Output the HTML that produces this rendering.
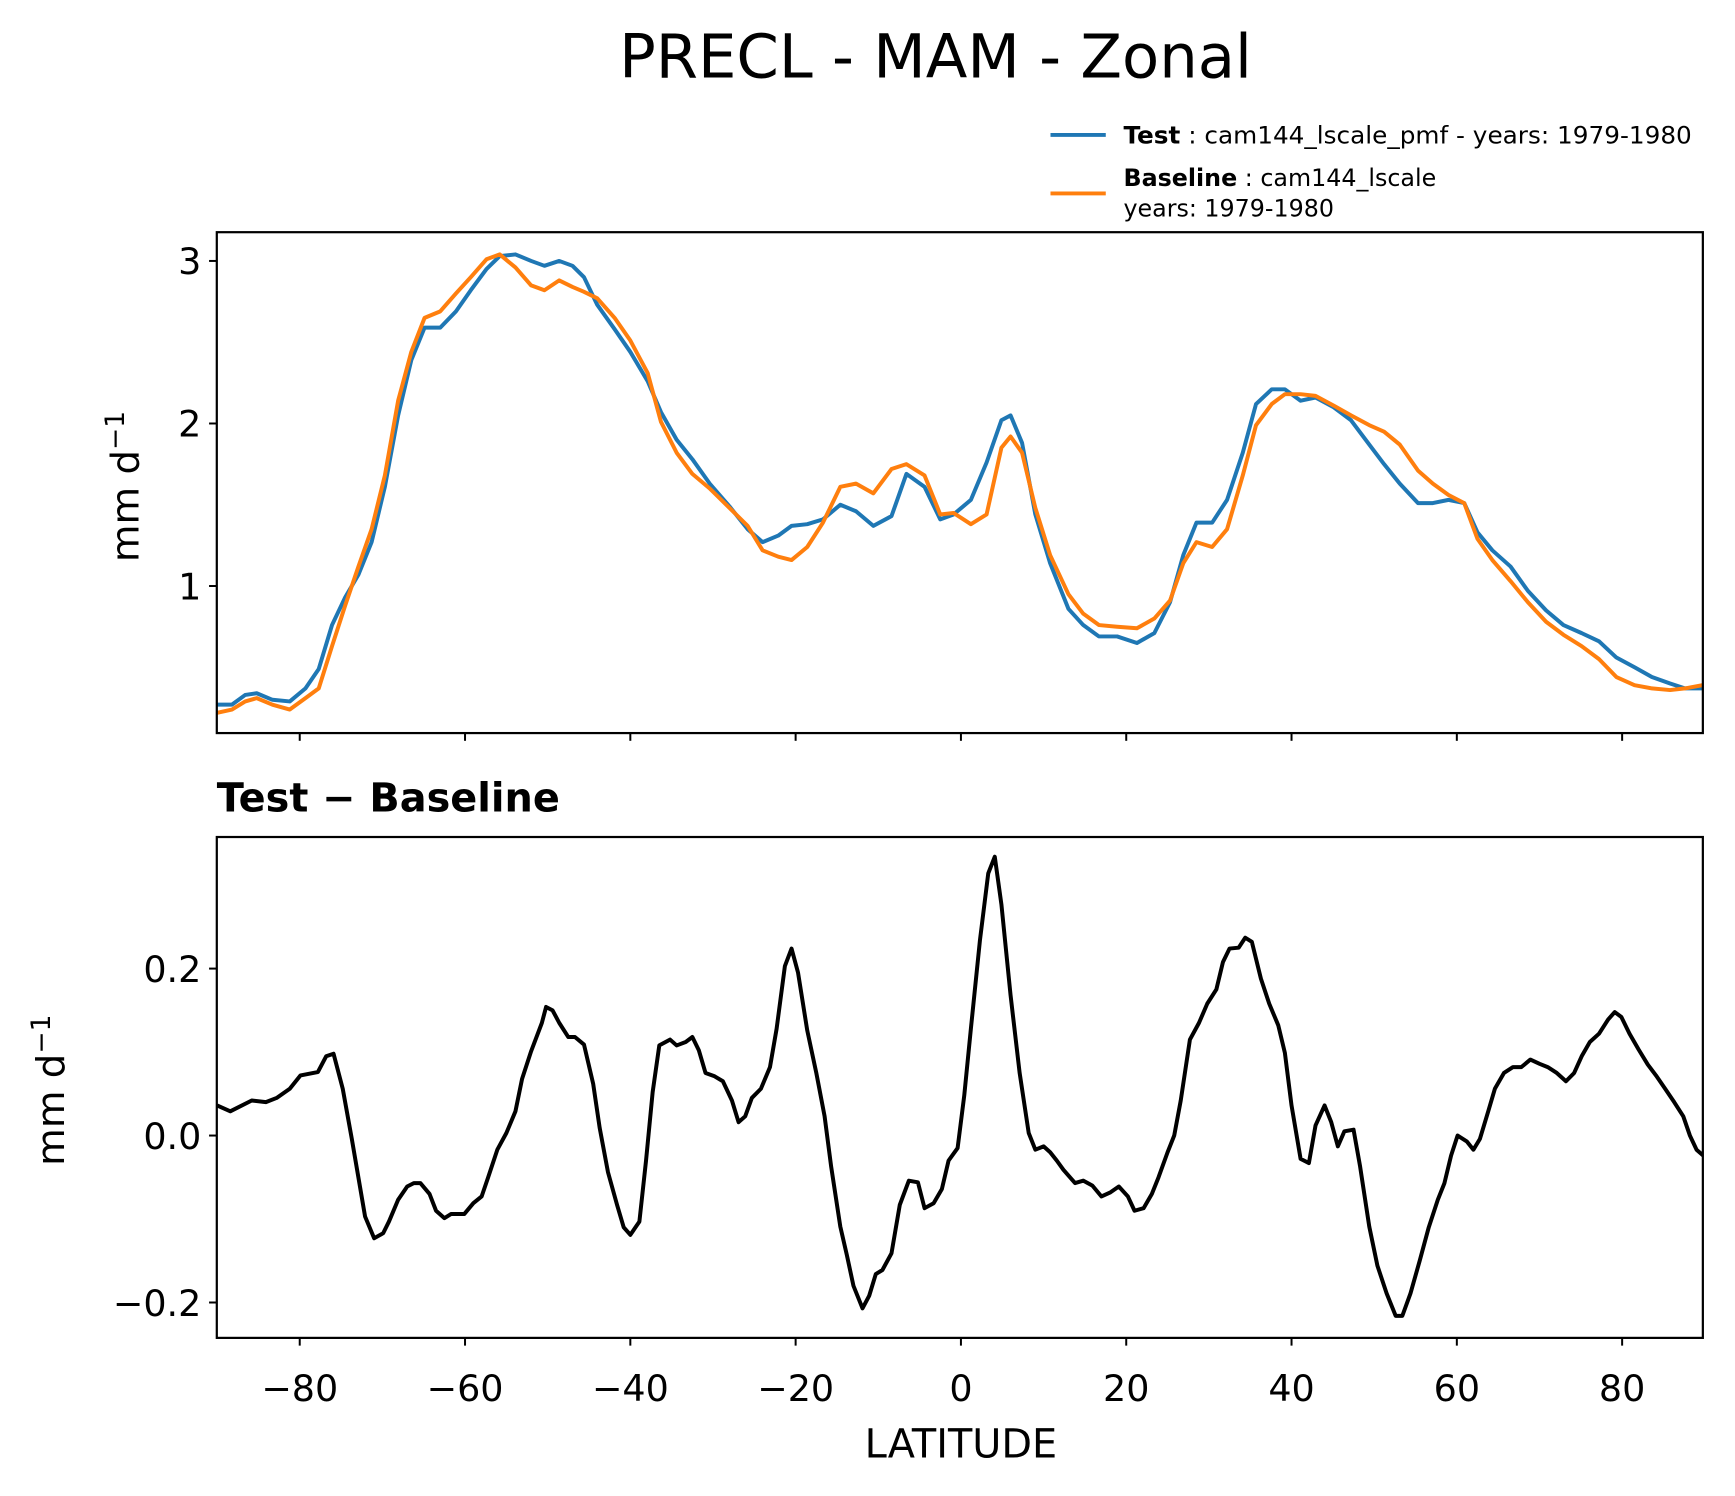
<!DOCTYPE html>
<html><head><meta charset="utf-8"><style>
html,body{margin:0;padding:0;background:#fff;}
svg{display:block;font-family:"DejaVu Sans","Liberation Sans",sans-serif;}
</style></head><body>
<svg id="fig" width="1735" height="1496" viewBox="0 0 1569 1353" xmlns="http://www.w3.org/2000/svg">
<rect width="1569" height="1353" fill="#fff"/>
<text x="846" y="70" font-size="55" text-anchor="middle">PRECL - MAM - Zonal</text>
<g>
<line x1="950" y1="122" x2="1000" y2="122" stroke="#1f77b4" stroke-width="3.5"/>
<text x="1016" y="130" font-size="21.5" textLength="514" lengthAdjust="spacingAndGlyphs"><tspan font-weight="bold">Test</tspan> : cam144_lscale_pmf - years: 1979-1980</text>
<line x1="950" y1="175" x2="1000" y2="175" stroke="#ff7f0e" stroke-width="3.5"/>
<text x="1016" y="168" font-size="21.5"><tspan font-weight="bold">Baseline</tspan> : cam144_lscale</text>
<text x="1016" y="196" font-size="21.5">years: 1979-1980</text>
</g>
<defs>
<clipPath id="c1"><rect x="196" y="210" width="1344" height="453"/></clipPath>
<clipPath id="c2"><rect x="196" y="757" width="1344" height="453"/></clipPath>
</defs>
<g id="topPanel"></g>
<g id="botPanel"></g>
<text x="196" y="734" font-size="36" font-weight="bold">Test − Baseline</text>
<text transform="translate(125,440) rotate(-90)" font-size="35" text-anchor="middle">mm d<tspan font-size="24" dy="-13">−1</tspan></text>
<text transform="translate(58,986) rotate(-90)" font-size="35" text-anchor="middle">mm d<tspan font-size="24" dy="-13">−1</tspan></text>
<text x="869" y="1318" font-size="36" text-anchor="middle">LATITUDE</text>
<script>
const topLat=[-90.0,-88.2,-86.6,-85.2,-83.3,-81.2,-79.3,-77.7,-76.1,-74.5,-72.9,-71.3,-69.7,-68.1,-66.5,-64.9,-63.0,-61.1,-59.3,-57.4,-55.8,-53.9,-52.0,-50.4,-48.6,-47.0,-45.6,-44.0,-41.9,-40.0,-37.9,-36.3,-34.4,-32.5,-30.4,-28.0,-25.8,-24.0,-22.1,-20.5,-18.6,-16.7,-14.6,-12.7,-10.6,-8.4,-6.6,-4.4,-2.5,-0.9,1.2,3.1,4.9,6.0,7.4,9.0,10.8,13.0,14.8,16.7,18.9,21.3,23.4,25.3,26.9,28.5,30.4,32.2,34.1,35.7,37.6,39.2,41.1,42.9,45.1,47.2,49.4,51.2,53.1,55.3,57.1,59.0,60.9,62.5,64.3,66.5,68.6,70.8,72.9,75.1,77.2,79.3,81.5,83.6,85.8,87.6,89.7];
const testVals=[0.27,0.27,0.33,0.34,0.30,0.29,0.37,0.49,0.76,0.93,1.07,1.27,1.61,2.05,2.39,2.59,2.59,2.69,2.82,2.95,3.03,3.04,3.00,2.97,3.00,2.97,2.90,2.73,2.58,2.44,2.26,2.07,1.90,1.78,1.63,1.49,1.35,1.27,1.31,1.37,1.38,1.41,1.50,1.46,1.37,1.43,1.69,1.61,1.41,1.44,1.53,1.76,2.02,2.05,1.88,1.44,1.14,0.86,0.76,0.69,0.69,0.65,0.71,0.90,1.19,1.39,1.39,1.53,1.82,2.12,2.21,2.21,2.14,2.16,2.10,2.02,1.87,1.75,1.63,1.51,1.51,1.53,1.51,1.33,1.22,1.12,0.97,0.85,0.76,0.71,0.66,0.56,0.50,0.44,0.40,0.37,0.37];
const baseVals=[0.22,0.24,0.29,0.31,0.27,0.24,0.31,0.37,0.63,0.88,1.12,1.35,1.68,2.14,2.44,2.65,2.69,2.80,2.90,3.01,3.04,2.96,2.85,2.82,2.88,2.84,2.81,2.77,2.65,2.51,2.31,2.01,1.82,1.69,1.60,1.48,1.37,1.22,1.18,1.16,1.24,1.39,1.61,1.63,1.57,1.72,1.75,1.68,1.44,1.45,1.38,1.44,1.85,1.92,1.82,1.48,1.19,0.95,0.83,0.76,0.75,0.74,0.80,0.91,1.14,1.27,1.24,1.35,1.68,1.99,2.12,2.18,2.18,2.17,2.11,2.05,1.99,1.95,1.87,1.71,1.63,1.56,1.51,1.29,1.16,1.03,0.90,0.78,0.70,0.63,0.55,0.44,0.39,0.37,0.36,0.37,0.39];
const diffLat=[-90.0,-88.4,-85.8,-84.1,-82.8,-81.2,-79.9,-77.8,-76.8,-75.9,-74.8,-73.7,-72.1,-71.0,-69.9,-69.2,-68.1,-67.0,-66.2,-65.4,-64.3,-63.5,-62.5,-61.7,-60.1,-59.0,-58.0,-57.2,-56.1,-55.0,-53.9,-53.1,-52.0,-50.7,-50.2,-49.4,-48.6,-47.5,-46.7,-45.6,-44.5,-43.7,-42.7,-41.6,-40.8,-40.0,-38.9,-38.1,-37.3,-36.5,-35.2,-34.4,-33.3,-32.5,-31.7,-30.9,-29.8,-28.8,-27.7,-26.9,-26.1,-25.3,-24.2,-23.1,-22.3,-21.3,-20.5,-19.7,-18.6,-17.5,-16.5,-15.7,-14.6,-13.8,-13.0,-11.9,-11.1,-10.3,-9.5,-8.4,-7.4,-6.3,-5.2,-4.4,-3.3,-2.3,-1.5,-0.4,0.4,1.2,2.3,3.3,4.1,4.9,6.0,7.1,8.2,9.0,10.0,10.8,11.6,12.4,13.8,14.8,15.9,17.0,18.1,19.1,20.2,21.0,22.1,23.1,23.9,25.0,25.8,26.6,27.7,28.8,29.8,30.9,31.7,32.5,33.6,34.4,35.2,36.3,37.3,38.4,39.2,40.0,41.1,42.1,42.9,44.0,44.8,45.6,46.4,47.5,48.3,49.4,50.4,51.5,52.6,53.4,54.4,55.5,56.6,57.7,58.5,59.3,60.1,61.2,62.0,62.8,63.8,64.6,65.7,66.8,67.8,68.9,70.0,71.0,72.1,73.2,74.2,75.1,76.1,77.2,78.3,79.1,79.9,80.9,82.0,83.1,84.1,85.2,86.3,87.4,88.2,89.0,89.8];
const diffVals=[0.036,0.029,0.042,0.040,0.045,0.056,0.072,0.076,0.095,0.098,0.056,-0.004,-0.097,-0.123,-0.117,-0.103,-0.077,-0.061,-0.057,-0.057,-0.070,-0.090,-0.099,-0.094,-0.094,-0.081,-0.073,-0.050,-0.017,0.003,0.029,0.068,0.101,0.135,0.154,0.150,0.135,0.118,0.118,0.109,0.062,0.009,-0.044,-0.083,-0.110,-0.119,-0.103,-0.030,0.052,0.108,0.115,0.108,0.112,0.118,0.102,0.075,0.071,0.065,0.042,0.016,0.023,0.045,0.056,0.082,0.128,0.203,0.224,0.195,0.126,0.075,0.023,-0.037,-0.109,-0.143,-0.180,-0.207,-0.192,-0.166,-0.161,-0.141,-0.083,-0.054,-0.056,-0.087,-0.081,-0.064,-0.030,-0.015,0.048,0.128,0.234,0.314,0.334,0.277,0.168,0.075,0.003,-0.017,-0.013,-0.020,-0.030,-0.041,-0.057,-0.054,-0.060,-0.073,-0.068,-0.061,-0.073,-0.090,-0.087,-0.070,-0.050,-0.020,0.000,0.042,0.115,0.135,0.158,0.175,0.208,0.224,0.225,0.237,0.232,0.188,0.158,0.132,0.099,0.036,-0.028,-0.033,0.012,0.036,0.016,-0.013,0.005,0.007,-0.037,-0.109,-0.156,-0.189,-0.216,-0.216,-0.189,-0.150,-0.110,-0.077,-0.057,-0.024,0.000,-0.007,-0.017,-0.004,0.029,0.056,0.075,0.082,0.082,0.091,0.086,0.082,0.075,0.065,0.075,0.095,0.112,0.122,0.139,0.148,0.142,0.122,0.103,0.085,0.072,0.056,0.040,0.023,0.000,-0.017,-0.024];
const xTicks=[-80,-60,-40,-20,0,20,40,60,80];
const topTicks=[1,2,3];
const botTicks=[-0.2,0.0,0.2];

const NS="http://www.w3.org/2000/svg";
const X=v=>869+v*7.475;
const Y1=v=>530-(v-1)*147;
const Y2=v=>1027-v*755;
function mk(tag,attrs,parent){const e=document.createElementNS(NS,tag);for(const k in attrs)e.setAttribute(k,attrs[k]);parent.appendChild(e);return e;}
function drawLine(lats,vals,Y,color,clip,parent,name){
  const p=mk('polyline',{points:lats.map((l,i)=>X(l).toFixed(1)+','+Y(vals[i]).toFixed(1)).join(' '),fill:'none',stroke:color,'stroke-width':3.6,'stroke-linejoin':'round','clip-path':'url(#'+clip+')'},parent);
  
  
}
function drawAxes(parent,y0,y1,ticks,Y,fmt,showX,nm){
  const f=mk('rect',{x:196,y:y0,width:1344,height:y1-y0,fill:'none',stroke:'#000','stroke-width':2},parent);
  
  
  ticks.forEach(t=>{
    const y=Y(t);
    mk('line',{x1:189,x2:196,y1:y,y2:y,stroke:'#000','stroke-width':1.8},parent);
    const tx=mk('text',{x:182,y:y+12,'font-size':33,'text-anchor':'end'},parent);
    tx.textContent=fmt(t);
    
    
  });
  xTicks.forEach(t=>{
    const x=X(t);
    mk('line',{x1:x,x2:x,y1:y1,y2:y1+7,stroke:'#000','stroke-width':1.8},parent);
    if(showX){
      const tx=mk('text',{x:x,y:y1+57,'font-size':33,'text-anchor':'middle'},parent);
      tx.textContent=(t<0?'−'+(-t):String(t));
      
      
    }
  });
}
const topG=document.getElementById('topPanel'), botG=document.getElementById('botPanel');
drawLine(topLat,testVals,Y1,'#1f77b4','c1',topG,'test-line');
drawLine(topLat,baseVals,Y1,'#ff7f0e','c1',topG,'baseline-line');
drawAxes(topG,210,663,topTicks,Y1,t=>String(t),false,'top');
drawLine(diffLat,diffVals,Y2,'#000','c2',botG,'difference-line');
drawAxes(botG,757,1210,botTicks,Y2,t=>(t<0?'−'+(-t).toFixed(1):t.toFixed(1)),true,'bottom');
</script>
</svg>
</body></html>
